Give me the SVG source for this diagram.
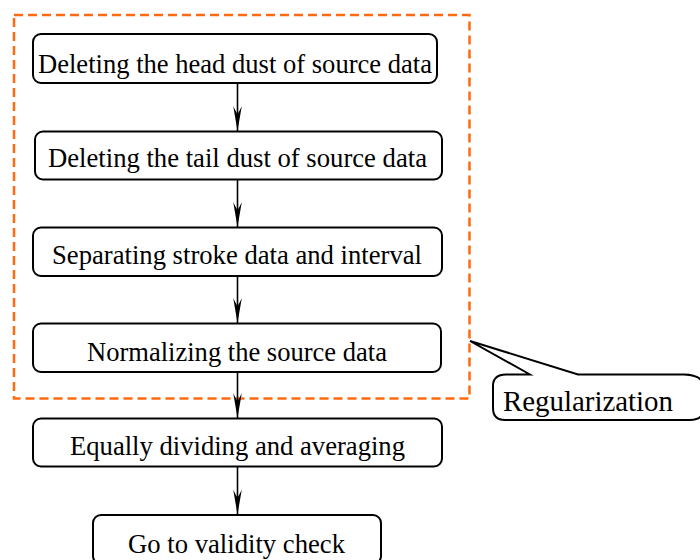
<svg xmlns="http://www.w3.org/2000/svg" width="700" height="560" viewBox="0 0 700 560">
  <style>
    .box { fill: #ffffff; stroke: #000000; stroke-width: 2; }
    .lbl { font-family: "Liberation Serif", "Times New Roman", serif; font-size: 27.5px; fill: #000000; text-anchor: middle; }
    .conn { stroke: #000000; stroke-width: 1.6; fill: none; }
    .frame { fill: none; stroke: #FF6A10; stroke-width: 2.5; stroke-dasharray: 9 5; }
    .callout { fill: #ffffff; stroke: #000000; stroke-width: 2; stroke-linejoin: miter; }
  </style>
  <defs>
    <marker id="arrow" markerUnits="userSpaceOnUse" viewBox="-26 -5 27 10" refX="0" refY="0" markerWidth="27" markerHeight="10" orient="auto">
      <path d="M0,0 L-25,-4.3 Q-19,-1.5 -17,0 Q-19,1.5 -25,4.3 Z" fill="#000000"/>
    </marker>
  </defs>
  <rect width="700" height="560" fill="#ffffff"/>

  <g id="regularization-frame">
    <rect class="frame" x="14" y="15" width="455.5" height="383.5"/>
  </g>

  <g id="n1">
    <rect class="box" x="33" y="34" width="404" height="49" rx="8" ry="8"/>
    <text class="lbl" x="235" y="73" textLength="394" lengthAdjust="spacingAndGlyphs">Deleting the head dust of source data</text>
  </g>
  <g id="n2">
    <rect class="box" x="35" y="131.5" width="407" height="48" rx="8" ry="8"/>
    <text class="lbl" x="237.5" y="167" textLength="379" lengthAdjust="spacingAndGlyphs">Deleting the tail dust of source data</text>
  </g>
  <g id="n3">
    <rect class="box" x="33" y="227.5" width="409" height="48.5" rx="8" ry="8"/>
    <text class="lbl" x="237" y="264" textLength="370" lengthAdjust="spacingAndGlyphs">Separating stroke data and interval</text>
  </g>
  <g id="n4">
    <rect class="box" x="33" y="323.5" width="408" height="48.5" rx="8" ry="8"/>
    <text class="lbl" x="237" y="360.5" textLength="300" lengthAdjust="spacingAndGlyphs">Normalizing the source data</text>
  </g>
  <g id="n5">
    <rect class="box" x="33" y="418.5" width="409" height="48" rx="8" ry="8"/>
    <text class="lbl" x="237.5" y="455" textLength="335" lengthAdjust="spacingAndGlyphs">Equally dividing and averaging</text>
  </g>
  <g id="n6">
    <rect class="box" x="93" y="515" width="288" height="49" rx="8" ry="8"/>
    <text class="lbl" x="236.5" y="552.5" textLength="217" lengthAdjust="spacingAndGlyphs">Go to validity check</text>
  </g>

  <g id="connectors">
    <line class="conn" x1="237.5" y1="83" x2="237.5" y2="131" marker-end="url(#arrow)"/>
    <line class="conn" x1="237.5" y1="179.5" x2="237.5" y2="227" marker-end="url(#arrow)"/>
    <line class="conn" x1="237.5" y1="276" x2="237.5" y2="323" marker-end="url(#arrow)"/>
    <line class="conn" x1="237.5" y1="372" x2="237.5" y2="418" marker-end="url(#arrow)"/>
    <line class="conn" x1="237.5" y1="466.5" x2="237.5" y2="514.5" marker-end="url(#arrow)"/>
  </g>

  <g id="callout">
    <path class="callout" d="M530,374.5 L470,341 L578,374.5 L684,374.5 Q703,375 703,386 L703,410 Q703,420 690,420 L505,420 Q493,420 493,408 L493,386 Q493,374.5 506,374.5 Z"/>
    <text x="503" y="411" font-family="'Liberation Serif', 'Times New Roman', serif" font-size="29px" fill="#000000" textLength="170" lengthAdjust="spacingAndGlyphs">Regularization</text>
  </g>
</svg>
